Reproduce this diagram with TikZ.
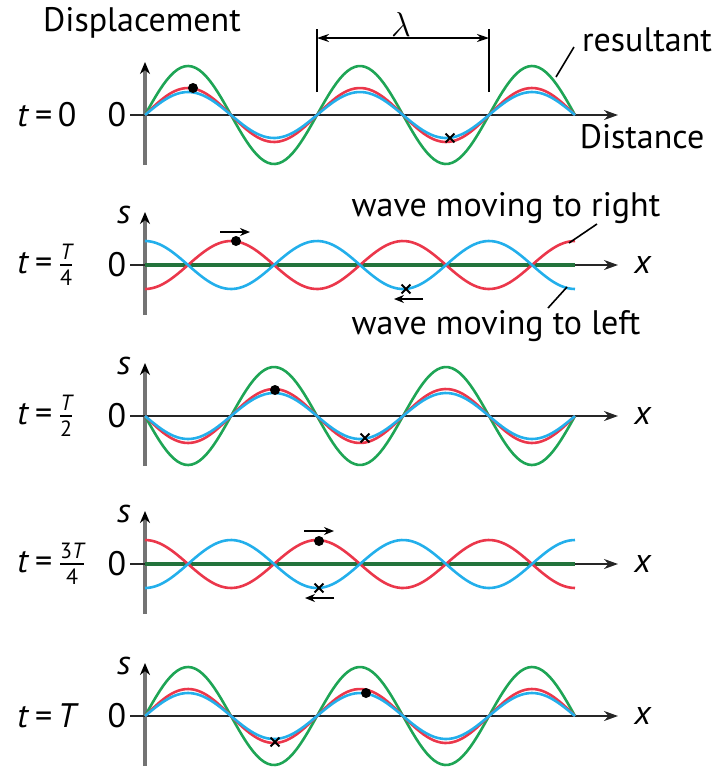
\documentclass[tikz,border=0pt]{standalone}
\usepackage{amsmath}
\usepackage{fontspec}
\setmainfont{PT Sans}
\usepackage{tikz}
\usetikzlibrary{arrows.meta, shapes.misc}
\definecolor{resgreen}{RGB}{30,165,85}
\definecolor{wavered}{RGB}{235,55,75}
\definecolor{waveblue}{RGB}{35,175,235}
\definecolor{flatgreen}{RGB}{35,115,60}
\newcommand{\wk}{2.0930}% degrees per pixel, lambda = 172
\newcommand{\smfr}[2]{\ensuremath{\frac{\text{\fontsize{11}{11}\selectfont #1}}{\text{\fontsize{11}{11}\selectfont #2}}}}
\tikzset{
    lbl/.style={font=\fontsize{17}{19}\selectfont, inner sep=0pt},
    tlbl/.style={lbl, anchor=west},
    vaxis/.style={draw=black!55, line width=2pt, -{Stealth[black, length=6pt, width=5pt]}},
    haxis/.style={draw=black!85, line width=1pt, -{Stealth[length=7pt, width=5pt]}},
    wavebase/.style={line width=1.3pt, domain=145:575, samples=120},
    resultant/.style={wavebase, draw=resgreen},
    rightwave/.style={wavebase, draw=wavered},
    leftwave/.style={wavebase, draw=waveblue},
    flatres/.style={draw=flatgreen, line width=2.4pt},
    particle/.style={circle, fill=black, inner sep=0pt, minimum size=5pt},
    nodept/.style={cross out, draw=black, line width=0.9pt, inner sep=0pt, minimum size=3.5pt},
    motion/.style={line width=0.8pt, -{Stealth[length=5pt, width=4pt]}},
    leader/.style={line width=0.8pt},
    dimline/.style={line width=0.9pt, {Stealth[length=6pt, width=4pt]}-{Stealth[length=6pt, width=4pt]}},
}

\begin{document}
\begin{tikzpicture}[x=0.5pt, y=-0.5pt]
\useasboundingbox (0,0) rectangle (718,767);

% === AXES ===
\foreach \yb/\nm in {115/a, 265/b, 416/c, 564/d, 716/e} {
    \coordinate (vb\nm) at (145,{\yb+50});
    \coordinate (vt\nm) at (145,{\yb-53});
    \coordinate (hl\nm) at (130,\yb);
    \coordinate (hr\nm) at (618,\yb);
    \draw[vaxis] (vb\nm) -- (vt\nm);
    \draw[haxis] (hl\nm) -- (hr\nm);
    \node[lbl] (zero\nm) at (117,\yb) {0};
}

% === WAVES ===
% t = 0 and t = T: both waves in phase
\foreach \yb in {115, 716} {
    \draw[resultant] plot (\x,{\yb-49*sin(\wk*(\x-145))});
    \draw[rightwave] plot (\x,{\yb-27*sin(\wk*(\x-145))});
    \draw[leftwave] plot (\x,{\yb-23*sin(\wk*(\x-145))});
}
% t = T/2: inverted
\draw[resultant] plot (\x,{416+49*sin(\wk*(\x-145))});
\draw[rightwave] plot (\x,{416+27*sin(\wk*(\x-145))});
\draw[leftwave] plot (\x,{416+23*sin(\wk*(\x-145))});
% t = T/4 and t = 3T/4: waves cancel
\coordinate (flb0) at (145,265);
\coordinate (flb1) at (575,265);
\draw[flatres] (flb0) -- (flb1);
\draw[rightwave] plot (\x,{265+24*cos(\wk*(\x-145))});
\draw[leftwave] plot (\x,{265-24*cos(\wk*(\x-145))});
\coordinate (fld0) at (145,564);
\coordinate (fld1) at (575,564);
\draw[flatres] (fld0) -- (fld1);
\draw[rightwave] plot (\x,{564-24*cos(\wk*(\x-145))});
\draw[leftwave] plot (\x,{564+24*cos(\wk*(\x-145))});

% === MARKED POINTS ===
\node[particle] (dota) at (193,88) {};
\node[nodept] (crsa) at (450,138) {};
\node[particle] (dotb) at (236,241) {};
\node[nodept] (crsb) at (406,289) {};
\node[particle] (dotc) at (275,390) {};
\node[nodept] (crsc) at (365,438) {};
\node[particle] (dotd) at (319,541) {};
\node[nodept] (crsd) at (319,588) {};
\node[particle] (dote) at (366,693) {};
\node[nodept] (crse) at (275,742) {};

% direction of travel
\coordinate (mvb0) at (220,232);
\coordinate (mvb1) at (250,232);
\draw[motion] (mvb0) -- (mvb1);
\coordinate (mvb2) at (423,299);
\coordinate (mvb3) at (394,299);
\draw[motion] (mvb2) -- (mvb3);
\coordinate (mvd0) at (304,531);
\coordinate (mvd1) at (334,531);
\draw[motion] (mvd0) -- (mvd1);
\coordinate (mvd2) at (334,598);
\coordinate (mvd3) at (305,598);
\draw[motion] (mvd2) -- (mvd3);

% === WAVELENGTH ===
\coordinate (lamb0) at (317,92);
\coordinate (lamt0) at (317,29);
\coordinate (lamb1) at (489,92);
\coordinate (lamt1) at (489,29);
\draw[line width=0.9pt] (lamb0) -- (lamt0);
\draw[line width=0.9pt] (lamb1) -- (lamt1);
\coordinate (lamm0) at (317,38);
\coordinate (lamm1) at (489,38);
\draw[dimline] (lamm0) -- (lamm1);
\node[lbl] (lam) at (401,24) {$\lambda$};

% === LABELS ===
\node[lbl] (disp) at (142,23) {Displacement};
\node[lbl] (dist) at (642,137) {Distance};
\node[lbl] (res) at (647,40) {resultant};
\coordinate (resc) at (556,77);
\coordinate (rest) at (574,47);
\draw[leader] (resc) -- (rest);

\node[lbl] (wright) at (506,208) {wave moving to right};
\coordinate (wrc) at (569,243);
\coordinate (wrt) at (597,224);
\draw[leader] (wrc) -- (wrt);
\node[lbl] (wleft) at (496,326) {wave moving to left};
\coordinate (wlc) at (567,287);
\coordinate (wlt) at (548,308);
\draw[leader] (wlc) -- (wlt);

\node[tlbl] (ta) at (17,115) {\textit{t}\,=\,0};
\node[tlbl] (tb) at (17,265) {\textit{t}\,=\,\smfr{\itshape T}{4}};
\node[tlbl] (tc) at (17,416) {\textit{t}\,=\,\smfr{\itshape T}{2}};
\node[tlbl] (td) at (17,564) {\textit{t}\,=\,\smfr{3\itshape T}{4}};
\node[tlbl] (te) at (17,716) {\textit{t}\,=\,\textit{T}};

\foreach \yb/\nm in {265/b, 416/c, 564/d, 716/e} {
    \node[lbl] (s\nm) at (124,{\yb-50}) {\textit{s}};
    \node[lbl] (x\nm) at (643,\yb) {\textit{x}};
}

\end{tikzpicture}
\end{document}
